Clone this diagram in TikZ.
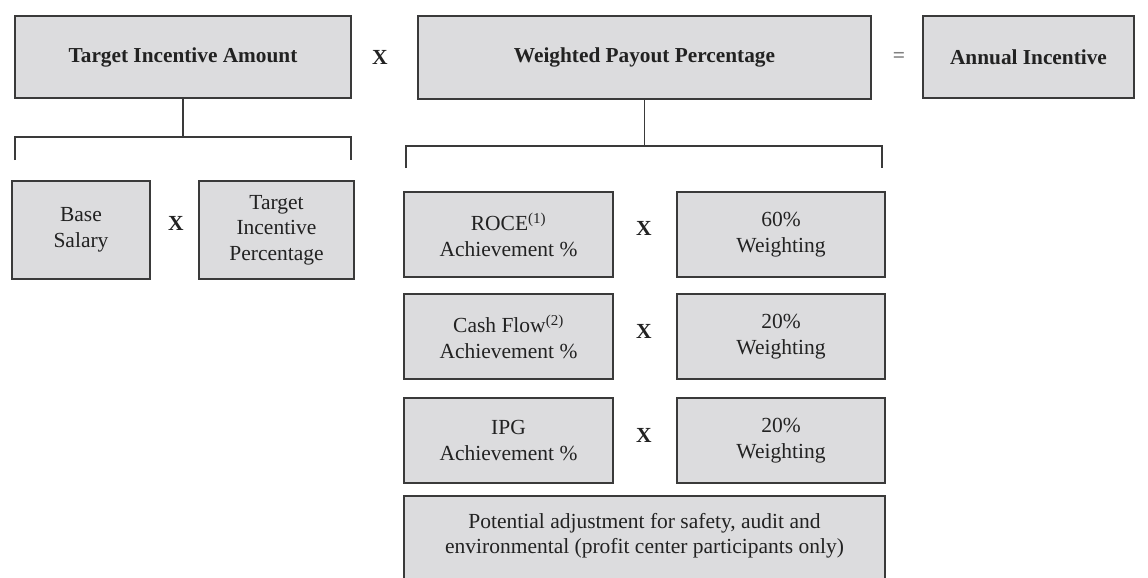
\documentclass[tikz,border=0pt]{standalone}
\usepackage{fontspec}
\setmainfont{Liberation Serif}
\definecolor{boxfill}{HTML}{DCDCDE}
\definecolor{boxline}{HTML}{3A3A3A}
\definecolor{txt}{HTML}{222222}
\begin{document}
\begin{tikzpicture}[x=1pt,y=-1pt,
  box/.style={draw=boxline, fill=boxfill, line width=1.4pt, inner sep=0pt, outer sep=0pt, align=center, text=txt,
    font=\fontsize{21.5}{25.5}\selectfont},
  bbox/.style={box, font=\fontsize{21.3}{25}\selectfont\bfseries},
  op/.style={text=txt, font=\fontsize{21.5}{25}\selectfont\bfseries, inner sep=0pt},
  conn/.style={draw=boxline, line width=1.5pt}
]
\useasboundingbox (0,0) rectangle (1148,578);
\clip (0,0) rectangle (1148,578);
% top row
\node[bbox, minimum width=336pt, minimum height=82pt] (tia) at (183,57) {Target Incentive Amount};
\node[bbox, minimum width=453pt, minimum height=83pt] (wpp) at (644.5,57.5) {Weighted Payout Percentage};
\node[bbox, minimum width=211pt, minimum height=82pt] (ai) at (1028.5,57) {Annual Incentive};
\node[op] (x0) at (380,57) {X};
\node[op, text=gray] (eq) at (899,57) {=};
% left branch
\coordinate (l1) at (15,160);
\coordinate (l1t) at (15,137);
\coordinate (r1t) at (351,137);
\coordinate (r1) at (351,160);
\draw[conn] (tia.south) -- (tia.south |- l1t);
\draw[conn] (l1) -- (l1t) -- (r1t) -- (r1);
\node[box, minimum width=138pt, minimum height=98pt] (bs) at (81,230) {Base\\Salary};
\node[box, minimum width=155pt, minimum height=98pt] (tip) at (276.5,230) {Target\\Incentive\\Percentage};
\node[op] (x1) at (176,223) {X};
% right branch
\coordinate (l2) at (406,168);
\coordinate (l2t) at (406,146);
\coordinate (r2t) at (882,146);
\coordinate (r2) at (882,168);
\draw[conn] (wpp.south) -- (wpp.south |- l2t);
\draw[conn] (l2) -- (l2t) -- (r2t) -- (r2);
\node[box, minimum width=209pt, minimum height=85pt] (roce) at (508.5,234.5) {ROCE\textsuperscript{(1)}\\Achievement \%};
\node[box, minimum width=208pt, minimum height=85pt] (w60) at (781,234.5) {60\%\\Weighting};
\node[op] (x2) at (644,228) {X};
\node[box, minimum width=209pt, minimum height=85pt] (cf) at (508.5,336.5) {Cash Flow\textsuperscript{(2)}\\Achievement \%};
\node[box, minimum width=208pt, minimum height=85pt] (w20a) at (781,336.5) {20\%\\Weighting};
\node[op] (x3) at (644,331) {X};
\node[box, minimum width=209pt, minimum height=85pt] (ipg) at (508.5,440.5) {IPG\\Achievement \%};
\node[box, minimum width=208pt, minimum height=85pt] (w20b) at (781,440.5) {20\%\\Weighting};
\node[op] (x4) at (644,435) {X};
\node[box, minimum width=481pt, minimum height=94pt] (pot) at (644.5,543) {};
\node[text=txt, align=center, inner sep=0pt, font=\fontsize{21.5}{25}\selectfont] (pottxt) at (644.5,536) {Potential adjustment for safety, audit and\\environmental (profit center participants only)};
\end{tikzpicture}
\end{document}
